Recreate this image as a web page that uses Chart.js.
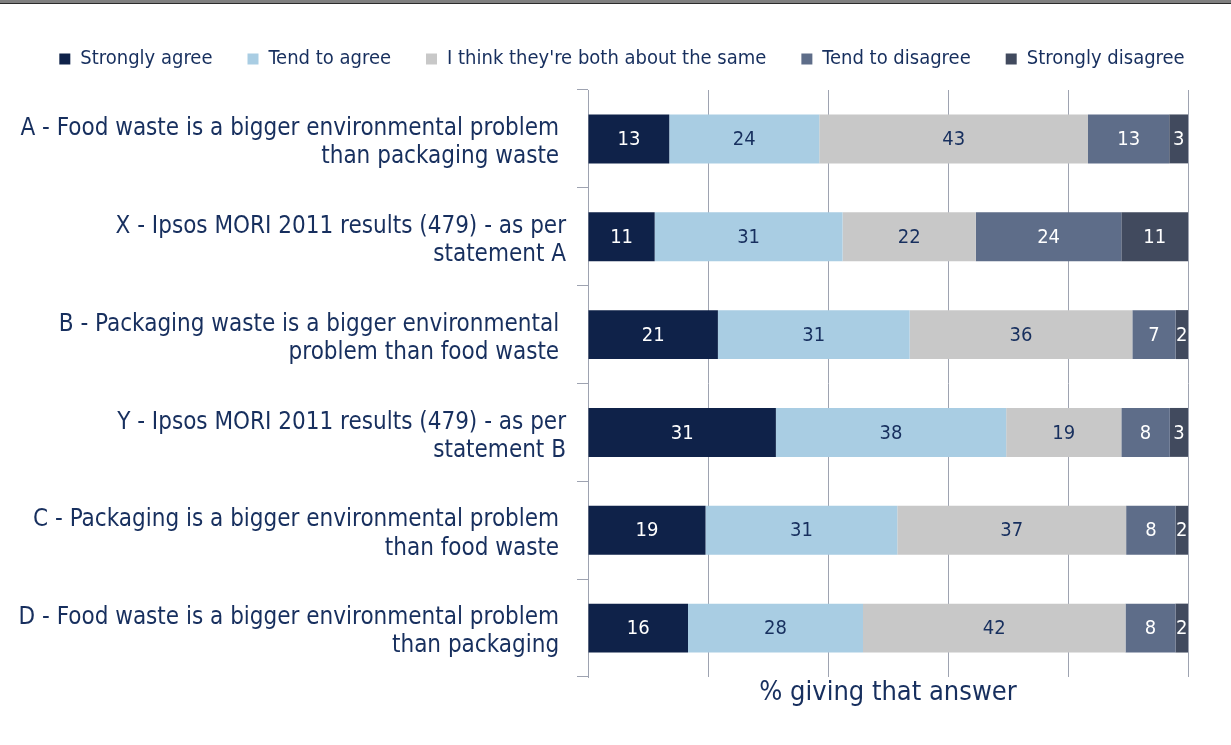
<!DOCTYPE html>
<html><head><meta charset="utf-8">
<script src="https://cdn.jsdelivr.net/npm/chart.js@4/dist/chart.umd.min.js"></script>
<style>
html,body{margin:0;padding:0;background:#fff;}
#wrap{position:relative;width:1231px;height:745px;overflow:hidden;}
#topbar{position:absolute;left:0;top:0;width:1231px;height:3px;background:#7f7f7f;border-bottom:1px solid #2b2b2b;}
canvas{display:block;}
</style></head><body>
<div id="wrap"><canvas id="c" width="1231" height="745"></canvas><div id="topbar"></div></div>
<script>
const categories = [
  ["A - Food waste is a bigger environmental problem ", "than packaging waste "],
  ["X - Ipsos MORI 2011 results (479) - as per", "statement A"],
  ["B - Packaging waste is a bigger environmental ", "problem than food waste "],
  ["Y - Ipsos MORI 2011 results (479) - as per", "statement B"],
  ["C - Packaging is a bigger environmental problem ", "than food waste "],
  ["D - Food waste is a bigger environmental problem ", "than packaging "]
];
const seriesNames = ["Strongly agree", "Tend to agree", "I think they're both about the same", "Tend to disagree", "Strongly disagree"];
const stronglyAgree   = [13, 11, 21, 31, 19, 16];
const tendToAgree     = [24, 31, 31, 38, 31, 28];
const aboutTheSame    = [43, 22, 36, 19, 37, 42];
const tendToDisagree  = [13, 24, 7, 8, 8, 8];
const stronglyDisagree= [3, 11, 2, 3, 2, 2];
const xTicks = [0, 20, 40, 60, 80, 100];
const axisTitle = "% giving that answer";

const FONT = "'DejaVu Sans Condensed', 'DejaVu Sans', sans-serif";
const NAVY = '#172f5e';
const GRID = '#9ea3b1';
const colors = ['#0f2249', '#a9cde3', '#c8c8c8', '#5e6d89', '#414a5e'];
const labelColors = ['#ffffff', NAVY, NAVY, '#ffffff', '#ffffff'];

const rawSeries = [stronglyAgree, tendToAgree, aboutTheSame, tendToDisagree, stronglyDisagree];
const totals = categories.map((_, j) => rawSeries.reduce((s, arr) => s + arr[j], 0));

const datasets = rawSeries.map((arr, i) => ({
  label: seriesNames[i],
  data: arr.map((v, j) => v / totals[j] * 100),
  rawValues: arr,
  xAxisID: 'x',
  yAxisID: 'y',
  backgroundColor: colors[i],
  borderWidth: 0,
  categoryPercentage: 0.5,
  barPercentage: 1.0
}));

const valueLabels = {
  id: 'valueLabels',
  afterDatasetsDraw(chart) {
    const ctx = chart.ctx;
    chart.data.datasets.forEach((ds, i) => {
      const meta = chart.getDatasetMeta(i);
      if (meta.hidden) return;
      meta.data.forEach((bar, j) => {
        const p = bar.getProps(['x', 'base', 'y'], true);
        ctx.save();
        ctx.font = "20px " + FONT;
        ctx.fillStyle = labelColors[i];
        ctx.textAlign = 'center';
        ctx.textBaseline = 'middle';
        ctx.fillText(String(ds.rawValues[j]), (p.x + p.base) / 2, p.y + 1);
        ctx.restore();
      });
    });
  }
};

new Chart(document.getElementById('c'), {
  type: 'bar',
  data: { labels: categories, datasets },
  plugins: [valueLabels],
  options: {
    responsive: false,
    animation: false,
    devicePixelRatio: 1,
    indexAxis: 'y',
    layout: { padding: { top: 14, right: 0, bottom: 0, left: 13 } },
    plugins: {
      tooltip: { enabled: false },
      legend: {
        position: 'top',
        labels: {
          boxWidth: 11, boxHeight: 11, padding: 35,
          color: NAVY,
          font: { family: FONT, size: 20 }
        }
      }
    },
    scales: {
      x: {
        stacked: true, min: 0, max: 100,
        afterBuildTicks(s) { s.ticks = xTicks.map(v => ({ value: v })); },
        ticks: { display: false },
        grid: { color: GRID, lineWidth: 1, drawTicks: false },
        border: { display: false },
        title: { display: true, text: axisTitle, color: NAVY, font: { family: FONT, size: 27, lineHeight: 1.2 }, padding: { top: 0, bottom: 36 } },
        afterFit(s) { s.height = 68; }
      },
      y: {
        stacked: true,
        ticks: { color: NAVY, font: { family: FONT, size: 24, lineHeight: 1.17 }, padding: 11, labelOffset: 4 },
        grid: { drawOnChartArea: false, drawTicks: true, tickLength: 11, color: GRID, offset: true },
        border: { display: true, color: GRID },
        afterFit(s) { s.width = 575; }
      },
      gapTop: {
        type: 'linear', position: 'top', display: true,
        ticks: { display: false }, grid: { display: false }, border: { display: false },
        afterFit(s) { s.height = 11; }
      },
      gapRight: {
        type: 'linear', position: 'right', display: true,
        ticks: { display: false }, grid: { display: false }, border: { display: false },
        afterFit(s) { s.width = 43; }
      }
    }
  }
});
</script>
</body></html>
